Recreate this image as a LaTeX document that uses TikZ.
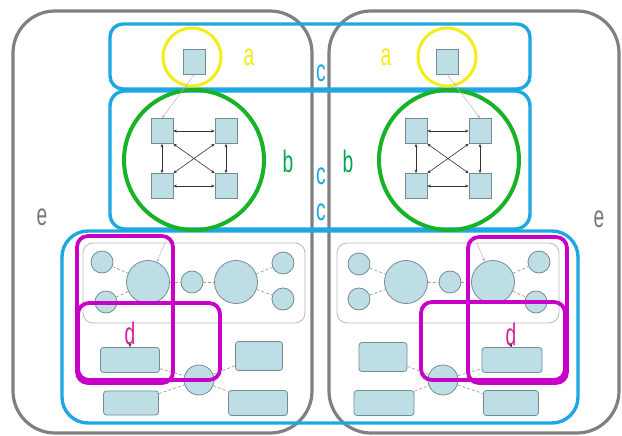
\documentclass[tikz,border=0pt]{standalone}
\usepackage{fontspec}
\setmainfont{Liberation Sans}[FakeStretch=0.62]
\usetikzlibrary{arrows.meta}
\definecolor{cblue}{RGB}{30,168,226}
\definecolor{cgreen}{RGB}{24,178,40}
\definecolor{cyellow}{RGB}{246,236,24}
\definecolor{cmag}{RGB}{200,0,200}
\definecolor{dlabel}{RGB}{214,30,150}
\definecolor{cgrey}{RGB}{128,128,128}
\definecolor{elabel}{RGB}{118,118,118}
\definecolor{nfill}{RGB}{190,222,230}
\definecolor{nedge}{RGB}{118,138,146}
\definecolor{lbgreen}{RGB}{0,166,80}
\begin{document}
\begin{tikzpicture}[x=1pt,y=-1pt,
  lbl/.style={font=\fontsize{31}{31}\selectfont, inner sep=0pt},
  ebox/.style={draw=cgrey, line width=3.2pt, rounded corners=42pt, inner sep=0pt},
  bbox/.style={draw=cblue, line width=3.4pt, inner sep=0pt},
  gbox/.style={draw=gray!55, line width=0.8pt, rounded corners=10pt, inner sep=0pt},
  mbox/.style={draw=cmag, line width=3.8pt, rounded corners=11pt, inner sep=0pt},
  sq/.style={draw=nedge, fill=nfill, line width=0.8pt, minimum width=22pt, minimum height=25pt, inner sep=0pt},
  circ/.style={circle, draw=nedge, fill=nfill, line width=0.8pt, inner sep=0pt},
  rbox/.style={draw=nedge, fill=nfill, rounded corners=3pt, line width=0.8pt, inner sep=0pt},
  dotline/.style={draw=gray!75, densely dashed, line width=0.7pt},
  link/.style={draw=gray!40!black, line width=0.6pt, {Stealth[length=3.5pt,width=3pt]}-{Stealth[length=3.5pt,width=3pt]}},
  faint/.style={draw=gray!55, line width=0.5pt, -{Stealth[length=3.5pt,width=3pt]}},
  small/.style={draw=gray!40!black, line width=0.6pt, -{Stealth[length=3.5pt,width=3pt]}}
]
\fill[white] (0,0) rectangle (622,436);
\useasboundingbox (0,0) rectangle (622,436);

% e regions
\node[ebox, minimum width=299pt, minimum height=422pt] (eL) at (162.5,222) {};
\node[ebox, minimum width=290pt, minimum height=422pt] (eR) at (474,222) {};

% c regions (blue)
\node[bbox, rounded corners=13pt, minimum width=420pt, minimum height=65pt] (cTop) at (320,56.5) {};
\node[bbox, rounded corners=15pt, minimum width=420pt, minimum height=138pt] (cMid) at (320,160) {};
\node[bbox, rounded corners=26pt, minimum width=516pt, minimum height=192pt] (cBot) at (320,327) {};

% a : yellow circles with single squares
\node[circle, draw=cyellow, line width=3pt, minimum size=58pt, inner sep=0pt] (aL) at (192,57) {};
\node[circle, draw=cyellow, line width=3pt, minimum size=58pt, inner sep=0pt] (aR) at (447,57) {};
\node[sq] (aLs) at (194,62) {};
\node[sq] (aRs) at (447.5,62) {};

% b : green circles with 4 squares
\node[circle, draw=cgreen, line width=4pt, minimum size=140pt, inner sep=0pt] (bL) at (194,160) {};
\node[circle, draw=cgreen, line width=4pt, minimum size=140pt, inner sep=0pt] (bR) at (449,160) {};

\node[sq] (L1) at (162,131) {};
\node[sq] (L2) at (226,131) {};
\node[sq] (L3) at (162,186) {};
\node[sq] (L4) at (226,186) {};
\node[sq] (R1) at (416,131) {};
\node[sq] (R2) at (480,131) {};
\node[sq] (R3) at (416,186) {};
\node[sq] (R4) at (480,186) {};

\foreach \p in {L,R}{
  \draw[link] (\p1.east) -- (\p2.west);
  \draw[link] (\p3.east) -- (\p4.west);
  \draw[link] (\p1.south) -- (\p3.north);
  \draw[link] (\p2.south) -- (\p4.north);
  \draw[link] (\p1.south east) -- (\p4.north west);
  \draw[link] (\p2.south west) -- (\p3.north east);
}
\draw[faint] (aLs.south) -- (L1.north);
\draw[faint] (aRs.south) -- (R2.north);

% bottom: grey containers with circles
\node[gbox, minimum width=222pt, minimum height=80pt] (gL) at (194,283) {};
\node[gbox, minimum width=222pt, minimum height=80pt] (gR) at (448,283) {};

% left
\node[circ, minimum size=22pt] (Lc1) at (102,262) {};
\node[circ, minimum size=22pt] (Lc2) at (106,302) {};
\node[circ, minimum size=43pt] (Lc3) at (148,282) {};
\node[circ, minimum size=22pt] (Lc4) at (192,282) {};
\node[circ, minimum size=43pt] (Lc5) at (236,282) {};
\node[circ, minimum size=22pt] (Lc6) at (283,263) {};
\node[circ, minimum size=22pt] (Lc7) at (283,299) {};
\draw[dotline] (Lc1) -- (Lc3);
\draw[dotline] (Lc2) -- (Lc3);
\draw[dotline] (Lc3) -- (Lc4);
\draw[dotline] (Lc4) -- (Lc5);
\draw[dotline] (Lc5) -- (Lc6);
\draw[dotline] (Lc5) -- (Lc7);
\coordinate (Lin) at (166,241);
\draw[faint] (Lin) -- (Lc3);

\node[rbox, minimum width=59pt, minimum height=25pt] (LrA) at (130,360) {};
\node[rbox, minimum width=55pt, minimum height=24pt] (LrB) at (131,403) {};
\node[rbox, minimum width=47pt, minimum height=29pt] (LrC) at (259,356) {};
\node[rbox, minimum width=59pt, minimum height=25pt] (LrD) at (258,403) {};
\node[circ, minimum size=30pt] (Lcc) at (199,380) {};
\draw[dotline] (LrA) -- (Lcc);
\draw[dotline] (LrB) -- (Lcc);
\draw[dotline] (Lcc) -- (LrC);
\draw[dotline] (Lcc) -- (LrD);

% right
\node[circ, minimum size=22pt] (Rc1) at (359,264) {};
\node[circ, minimum size=22pt] (Rc2) at (359,299) {};
\node[circ, minimum size=43pt] (Rc3) at (406,282) {};
\node[circ, minimum size=22pt] (Rc4) at (450,282) {};
\node[circ, minimum size=43pt] (Rc5) at (493,282) {};
\node[circ, minimum size=22pt] (Rc6) at (539,262) {};
\node[circ, minimum size=22pt] (Rc7) at (536,302) {};
\draw[dotline] (Rc1) -- (Rc3);
\draw[dotline] (Rc2) -- (Rc3);
\draw[dotline] (Rc3) -- (Rc4);
\draw[dotline] (Rc4) -- (Rc5);
\draw[dotline] (Rc5) -- (Rc6);
\draw[dotline] (Rc5) -- (Rc7);
\coordinate (Rin) at (477,243);
\draw[faint] (Rin) -- (Rc5);

\node[rbox, minimum width=48pt, minimum height=29pt] (RrA) at (383,357) {};
\node[rbox, minimum width=60pt, minimum height=25pt] (RrB) at (384,403) {};
\node[rbox, minimum width=60pt, minimum height=25pt] (RrC) at (512,360) {};
\node[rbox, minimum width=55pt, minimum height=25pt] (RrD) at (511,403) {};
\node[circ, minimum size=30pt] (Rcc) at (443,380) {};
\draw[dotline] (RrA) -- (Rcc);
\draw[dotline] (RrB) -- (Rcc);
\draw[dotline] (Rcc) -- (RrC);
\draw[dotline] (Rcc) -- (RrD);

% d : magenta boxes
\node[mbox, minimum width=96pt, minimum height=147pt] (dL1) at (125,309.5) {};
\node[mbox, minimum width=142pt, minimum height=77pt] (dL2) at (149,341.5) {};
\node[mbox, minimum width=99pt, minimum height=146pt] (dR1) at (517.5,310) {};
\node[mbox, minimum width=144pt, minimum height=78pt] (dR2) at (493,341) {};

% labels
\node[lbl, text=cyellow] (la1) at (249,57) {a};
\node[lbl, text=cyellow] (la2) at (386,57) {a};
\node[lbl, text=lbgreen] (lb1) at (288,161) {b};
\node[lbl, text=lbgreen] (lb2) at (348,161) {b};
\node[lbl, text=cblue] (lc1) at (321,73) {c};
\node[lbl, text=cblue] (lc2) at (321,176) {c};
\node[lbl, text=cblue] (lc3) at (321,212) {c};
\node[lbl, text=elabel] (le1) at (42,217) {e};
\node[lbl, text=elabel] (le2) at (599,219) {e};
\node[lbl, text=dlabel] (ld1) at (130,333) {d};
\node[lbl, text=dlabel] (ld2) at (511,334) {d};
\draw[small] (ld1.south) -- (LrA.north);
\draw[small] (ld2.south) -- (RrC.north);
\end{tikzpicture}
\end{document}
